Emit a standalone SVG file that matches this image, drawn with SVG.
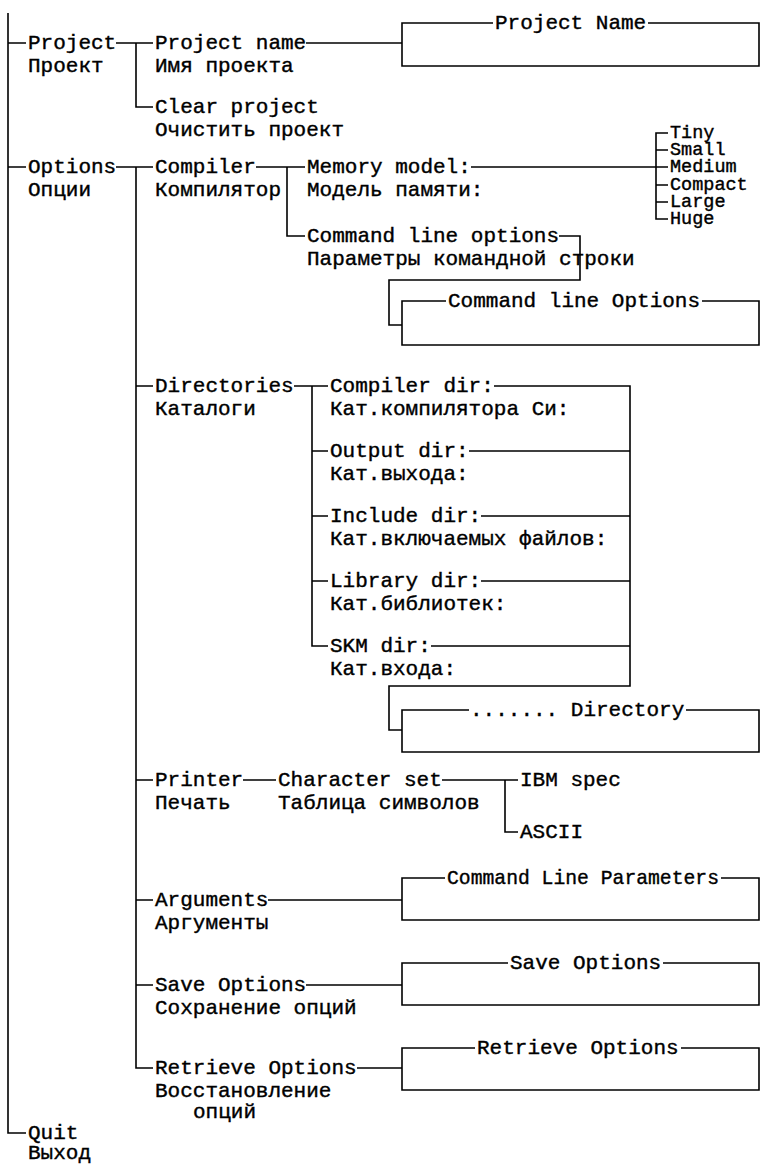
<svg xmlns="http://www.w3.org/2000/svg" width="767" height="1165" viewBox="0 0 767 1165">
<style>
text{font-family:"Liberation Mono","DejaVu Sans Mono",monospace;font-size:21px;fill:#000;stroke:#000;stroke-width:0.4}
.s{font-size:18.5px}
.c{fill:none;stroke:#000;stroke-width:1.6}
.b{fill:none;stroke:#000;stroke-width:1.6}
</style>
<rect width="767" height="1165" fill="#fff"/>
<g id="connectors" class="c">
<path d="M8,13 V1133 H26 M8,43 H26 M8,167 H26"/>
<path d="M116,43 H153 M136,43 V107 H153"/>
<path d="M306,43 H402"/>
<path d="M116,167 H153 M136,167 V1068 H153 M136,386 H153 M136,780 H153 M136,900 H153 M136,985 H153"/>
<path d="M256,167 H305 M287,167 V236 H305"/>
<path d="M471,167 H668 M668,133 H656 V219 H668 M656,150 H668 M656,185 H668 M656,202 H668"/>
<path d="M559,236 H580 V280 H389 V325 H402"/>
<path d="M294,386 H328 M312,386 V646 H328 M312,451 H328 M312,516 H328 M312,581 H328"/>
<path d="M494,386 H630 V686 H389 V730 H402 M469,451 H630 M481,516 H630 M481,581 H630 M431,646 H630"/>
<path d="M243,780 H276 M442,780 H518 M505,780 V832 H518"/>
<path d="M268,900 H402 M306,985 H402 M357,1068 H402"/>
</g>
<g id="n-project"><text x="28" y="49">Project</text><text x="28" y="72">Проект</text></g>
<g id="n-project-name"><text x="155" y="49">Project name</text><text x="155" y="72">Имя проекта</text></g>
<g id="n-clear-project"><text x="155" y="113">Clear project</text><text x="155" y="136">Очистить проект</text></g>
<g id="box-project-name"><path class="b" d="M493,23 H402 V66 H759 V23 H648"/><text x="495" y="29">Project Name</text></g>
<g id="n-options"><text x="28" y="173">Options</text><text x="28" y="196">Опции</text></g>
<g id="n-compiler"><text x="155" y="173">Compiler</text><text x="155" y="196">Компилятор</text></g>
<g id="n-memory-model"><text x="307" y="173">Memory model:</text><text x="307" y="196">Модель памяти:</text></g>
<g id="n-tiny"><text class="s" x="670" y="138">Tiny</text></g>
<g id="n-small"><text class="s" x="670" y="155">Small</text></g>
<g id="n-medium"><text class="s" x="670" y="172">Medium</text></g>
<g id="n-compact"><text class="s" x="670" y="190">Compact</text></g>
<g id="n-large"><text class="s" x="670" y="207">Large</text></g>
<g id="n-huge"><text class="s" x="670" y="224">Huge</text></g>
<g id="n-cmdline-options"><text x="307" y="242">Command line options</text><text x="307" y="265">Параметры командной строки</text></g>
<g id="box-cmdline"><path class="b" d="M446,301 H402 V345 H759 V301 H702"/><text x="448" y="307">Command line Options</text></g>
<g id="n-directories"><text x="155" y="392">Directories</text><text x="155" y="415">Каталоги</text></g>
<g id="n-compiler-dir"><text x="330" y="392">Compiler dir:</text><text x="330" y="415">Кат.компилятора Си:</text></g>
<g id="n-output-dir"><text x="330" y="457">Output dir:</text><text x="330" y="480">Кат.выхода:</text></g>
<g id="n-include-dir"><text x="330" y="522">Include dir:</text><text x="330" y="545">Кат.включаемых файлов:</text></g>
<g id="n-library-dir"><text x="330" y="587">Library dir:</text><text x="330" y="610">Кат.библиотек:</text></g>
<g id="n-skm-dir"><text x="330" y="652">SKM dir:</text><text x="330" y="675">Кат.входа:</text></g>
<g id="box-directory"><path class="b" d="M469,710 H402 V752 H759 V710 H686"/><text x="470" y="716">....... Directory</text></g>
<g id="n-printer"><text x="155" y="786">Printer</text><text x="155" y="809">Печать</text></g>
<g id="n-charset"><text x="278" y="786">Character set</text><text x="278" y="809">Таблица символов</text></g>
<g id="n-ibm"><text x="520" y="786">IBM spec</text></g>
<g id="n-ascii"><text x="520" y="838">ASCII</text></g>
<g id="n-arguments"><text x="155" y="906">Arguments</text><text x="155" y="929">Аргументы</text></g>
<g id="box-arguments"><path class="b" d="M445,878 H402 V920 H759 V878 H721"/><text x="447" y="884" textLength="272" lengthAdjust="spacingAndGlyphs">Command Line Parameters</text></g>
<g id="n-save"><text x="155" y="991">Save Options</text><text x="155" y="1014">Сохранение опций</text></g>
<g id="box-save"><path class="b" d="M508,963 H402 V1005 H759 V963 H663"/><text x="510" y="969">Save Options</text></g>
<g id="n-retrieve"><text x="155" y="1074">Retrieve Options</text><text x="155" y="1097">Восстановление</text><text x="193" y="1118">опций</text></g>
<g id="box-retrieve"><path class="b" d="M475,1048 H402 V1090 H759 V1048 H681"/><text x="477" y="1054">Retrieve Options</text></g>
<g id="n-quit"><text x="28" y="1139">Quit</text><text x="28" y="1159">Выход</text></g>
</svg>
